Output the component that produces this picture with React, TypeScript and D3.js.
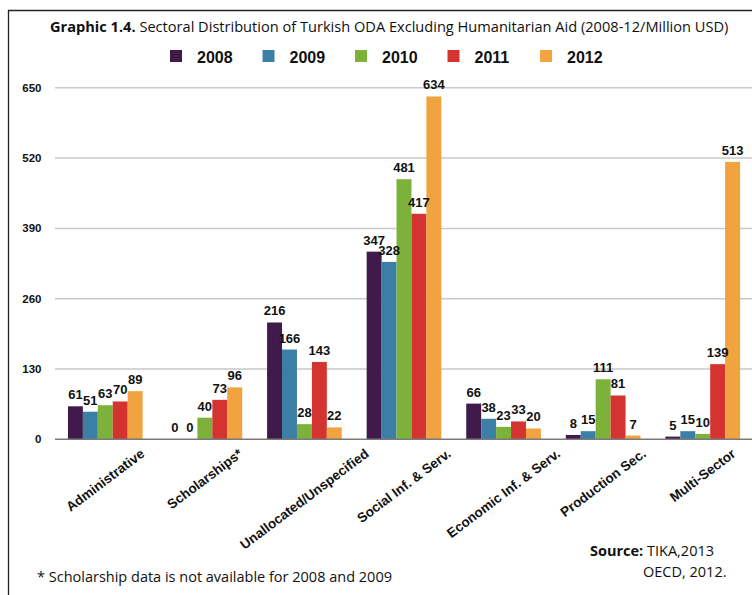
import React from "react";
import * as d3 from "d3";

const categories = [
  "Administrative",
  "Scholarships*",
  "Unallocated/Unspecified",
  "Social Inf. & Serv.",
  "Economic Inf. & Serv.",
  "Production Sec.",
  "Multi-Sector",
];
const years = ["2008", "2009", "2010", "2011", "2012"];
const v2008 = [61, 0, 216, 347, 66, 8, 5];
const v2009 = [51, 0, 166, 328, 38, 15, 15];
const v2010 = [63, 40, 28, 481, 23, 111, 10];
const v2011 = [70, 73, 143, 417, 33, 81, 139];
const v2012 = [89, 96, 22, 634, 20, 7, 513];
const seriesValues = [v2008, v2009, v2010, v2011, v2012];
const colors = ["#3f1a4b", "#3b7fa7", "#7db23a", "#d43430", "#f0a33f"];
const yTicks = [0, 130, 260, 390, 520, 650];

const W = 752;
const H = 595;
const LBL_FONT = "bold 13.5px 'Liberation Sans', Arial, sans-serif";
const ANGLE = 37;

function measure(text: string, font: string): number {
  if (typeof document === "undefined") return text.length * 7;
  const c = document.createElement("canvas");
  const ctx = c.getContext("2d");
  if (!ctx) return text.length * 7;
  ctx.font = font;
  return ctx.measureText(text).width;
}

export default function App() {
  const x0 = d3
    .scaleBand<string>()
    .domain(categories)
    .range([55.5, 752.5])
    .paddingInner(0.25)
    .paddingOuter(0.125);
  const x1 = d3.scaleBand<string>().domain(years).range([0, x0.bandwidth()]);
  const y = d3.scaleLinear().domain([0, 650]).range([439.3, 87.8]);

  const rad = (ANGLE * Math.PI) / 180;

  return (
    <svg
      width={W}
      height={H}
      style={{ position: "absolute", left: 0, top: 0, background: "#fff" }}
    >
      <rect x={0} y={0} width={W} height={H} fill="#fff" />
      {/* frame */}
      <line x1={8.5} y1={10} x2={8.5} y2={H} stroke="#222" strokeWidth={1.3} />
      <line x1={8} y1={10.5} x2={W} y2={10.5} stroke="#222" strokeWidth={1.3} />

      {/* title */}
      <text
        x={50}
        y={32}
        fontFamily="'Open Sans', 'Noto Sans', sans-serif"
        fontSize={14.6}
        fill="#111"
      >
        <tspan fontWeight="bold">Graphic 1.4.</tspan>
        <tspan> Sectoral Distribution of Turkish ODA Excluding Humanitarian Aid (2008-12/Million USD)</tspan>
      </text>

      {/* legend */}
      {years.map((yr, i) => (
        <g key={yr} transform={`translate(${170 + i * 92.5},0)`}>
          <rect x={0} y={50} width={12} height={12} fill={colors[i]} />
          <text
            x={27}
            y={62.5}
            fontFamily="'Liberation Sans', Arial, sans-serif"
            fontWeight="bold"
            fontSize={16}
            fill="#111"
          >
            {yr}
          </text>
        </g>
      ))}

      {/* grid */}
      {yTicks.map((t) => (
        <g key={t}>
          {t !== 0 && (
            <line x1={55} x2={W} y1={y(t)} y2={y(t)} stroke="#c9c9c9" strokeWidth={1.5} />
          )}
          <text
            x={41.5}
            y={y(t) + 4}
            textAnchor="end"
            fontFamily="'Liberation Sans', Arial, sans-serif"
            fontWeight="bold"
            fontSize={11.5}
            fill="#111"
          >
            {t}
          </text>
        </g>
      ))}

      {/* bars */}
      {categories.map((c, ci) => (
        <g key={c} transform={`translate(${x0(c)},0)`}>
          {years.map((yr, si) => {
            const v = seriesValues[si][ci];
            return (
              <rect
                key={yr}
                x={x1(yr)}
                y={y(v)}
                width={x1.bandwidth()}
                height={y(0) - y(v)}
                fill={colors[si]}
              />
            );
          })}
        </g>
      ))}

      {/* axis */}
      <line x1={55} x2={W} y1={y(0)} y2={y(0)} stroke="#7a7a7a" strokeWidth={1.5} />

      {/* value labels */}
      {categories.map((c, ci) => (
        <g key={c} transform={`translate(${x0(c)},0)`}>
          {years.map((yr, si) => {
            const v = seriesValues[si][ci];
            return (
              <text
                key={yr}
                x={(x1(yr) as number) + x1.bandwidth() / 2}
                y={y(v) - 7}
                textAnchor="middle"
                fontFamily="'Liberation Sans', Arial, sans-serif"
                fontWeight="bold"
                fontSize={13}
                fill="#111"
              >
                {v}
              </text>
            );
          })}
        </g>
      ))}

      {/* category labels */}
      {categories.map((c) => {
        const L = measure(c, LBL_FONT);
        const cx = (x0(c) as number) + x0.bandwidth() / 2;
        const cy = 448 + (L * Math.sin(rad) + 10 * Math.cos(rad)) / 2;
        return (
          <text
            key={c}
            transform={`translate(${cx},${cy}) rotate(${-ANGLE})`}
            textAnchor="middle"
            dominantBaseline="central"
            fontFamily="'Liberation Sans', Arial, sans-serif"
            fontWeight="bold"
            fontSize={13.5}
            fill="#111"
          >
            {c}
          </text>
        );
      })}

      {/* footnote & source */}
      <text
        x={37}
        y={582}
        fontFamily="'Open Sans', 'Noto Sans', sans-serif"
        fontSize={14.5}
        fill="#111"
      >
        * Scholarship data is not available for 2008 and 2009
      </text>
      <text
        x={590}
        y={556}
        fontFamily="'Open Sans', 'Noto Sans', sans-serif"
        fontSize={14.5}
        fill="#111"
      >
        <tspan fontWeight="bold">Source:</tspan>
        <tspan> TIKA,2013</tspan>
      </text>
      <text
        x={643}
        y={577}
        fontFamily="'Open Sans', 'Noto Sans', sans-serif"
        fontSize={14.5}
        fill="#111"
      >
        OECD, 2012.
      </text>
    </svg>
  );
}
